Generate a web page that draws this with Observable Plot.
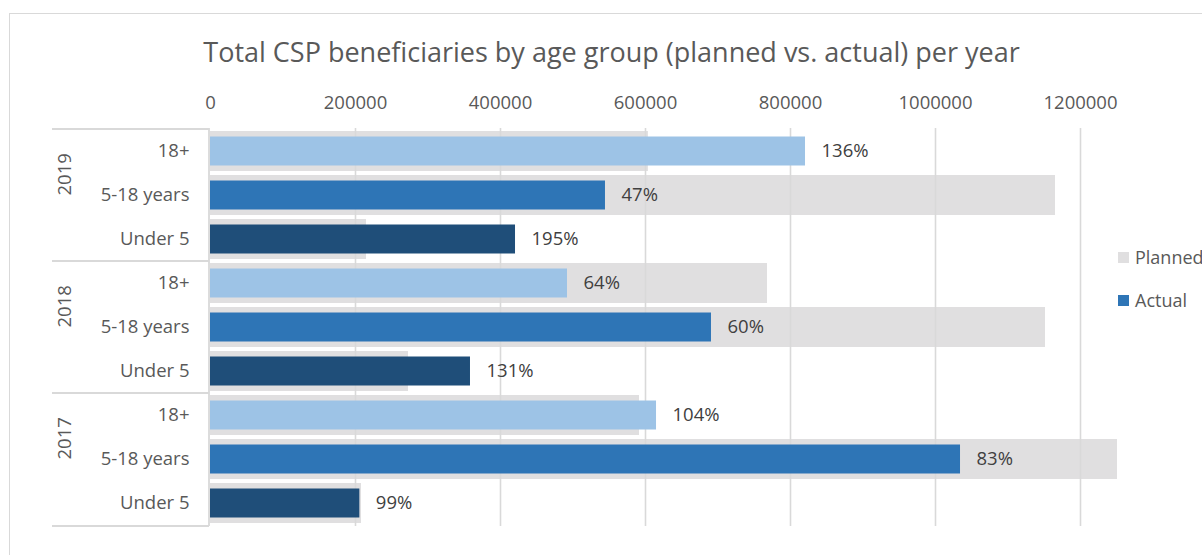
<!DOCTYPE html>
<html>
<head>
<meta charset="utf-8">
<script src="https://cdn.jsdelivr.net/npm/d3@7"></script>
<script src="https://cdn.jsdelivr.net/npm/@observablehq/plot@0.6"></script>
<style>
  html, body { margin: 0; padding: 0; background: #fff; overflow: hidden; }
  #wrap { position: relative; width: 1202px; height: 555px; overflow: hidden; font-family: "Open Sans", sans-serif; }
  #border { position: absolute; left: 9px; top: 13px; width: 1400px; height: 800px; border: 1.5px solid #d9d9d9; box-sizing: border-box; }
  #title { position: absolute; left: 0; top: 38px; width: 1223px; text-align: center; font-size: 27px; line-height: 1; color: #595959; white-space: nowrap; }
  #chart { position: absolute; left: 0; top: 0; }
  #legend { position: absolute; left: 1118px; top: 245px; font-size: 18px; color: #595959; white-space: nowrap; }
  .li { display: flex; align-items: center; height: 24px; margin-bottom: 19px; }
  .sw { width: 11px; height: 11px; margin-right: 6px; }
</style>
</head>
<body>
<div id="wrap">
  <div id="border"></div>
  <div id="title">Total CSP beneficiaries by age group (planned vs. actual) per year</div>
  <div id="chart"></div>
  <div id="legend">
    <div class="li"><div class="sw" style="background:#e0dfe0"></div>Planned</div>
    <div class="li"><div class="sw" style="background:#2e75b6"></div>Actual</div>
  </div>
</div>
<script>
const years = ["2019", "2018", "2017"];
const ageGroups = ["18+", "5-18 years", "Under 5"];
const planned2019 = [604000, 1165500, 215200];
const planned2018 = [768300, 1151700, 273100];
const planned2017 = [591700, 1251000, 208300];
const actual2019 = [820700, 544800, 420700];
const actual2018 = [492400, 691000, 358600];
const actual2017 = [615200, 1034500, 206000];
const labels2019 = ["136%", "47%", "195%"];
const labels2018 = ["64%", "60%", "131%"];
const labels2017 = ["104%", "83%", "99%"];
const xTicks = [0, 200000, 400000, 600000, 800000, 1000000, 1200000];
const ageColors = ["#9dc3e6", "#2e75b6", "#1f4e79"];

const plannedBy = {"2019": planned2019, "2018": planned2018, "2017": planned2017};
const actualBy = {"2019": actual2019, "2018": actual2018, "2017": actual2017};
const labelsBy = {"2019": labels2019, "2018": labels2018, "2017": labels2017};

const rows = [];
for (const yr of years) {
  ageGroups.forEach((ag, i) => {
    rows.push({year: yr, age: ag, key: yr + "|" + ag, planned: plannedBy[yr][i], actual: actualBy[yr][i], label: labelsBy[yr][i]});
  });
}
const keys = rows.map(d => d.key);

const separators = (index, scales, values, dimensions) => {
  const g = d3.create("svg:g");
  const y = scales.y;
  const x0 = dimensions.marginLeft - 158;
  const x1 = dimensions.marginLeft - 1;
  const ys = years.map(yr => y(yr + "|" + ageGroups[0]));
  ys.push(dimensions.height - dimensions.marginBottom);
  for (const yy of ys) {
    g.append("line").attr("x1", x0).attr("x2", x1).attr("y1", yy).attr("y2", yy)
      .attr("stroke", "#d9d9d9").attr("stroke-width", 1.8);
  }
  g.append("line").attr("x1", x1).attr("x2", x1)
    .attr("y1", dimensions.marginTop).attr("y2", dimensions.height - dimensions.marginBottom)
    .attr("stroke", "#d9d9d9").attr("stroke-width", 1.8);
  return g.node();
};

const chart = Plot.plot({
  width: 1202,
  height: 555,
  marginLeft: 210,
  marginRight: 122,
  marginTop: 128,
  marginBottom: 29,
  style: {fontFamily: "'Open Sans', sans-serif", fontSize: "18.5px", color: "#595959", background: "transparent", overflow: "visible"},
  x: {domain: [0, 1200000], ticks: xTicks, axis: "top", tickSize: 0, tickPadding: 20, tickFormat: d => String(d), label: null},
  y: {domain: keys, padding: 0, axis: null},
  color: {domain: ageGroups, range: ageColors},
  marks: [
    Plot.barX(rows, {y: "key", x: "planned", fill: "#e0dfe0", insetTop: 2, insetBottom: 2}),
    Plot.gridX(xTicks.slice(1), {stroke: "#d9d9d9", strokeOpacity: 1, strokeWidth: 1.6}),
    Plot.barX(rows, {y: "key", x: "actual", fill: "age", insetTop: 7.5, insetBottom: 7.5}),
    Plot.text(rows, {y: "key", x: "actual", text: "label", textAnchor: "start", dx: 16, fill: "#404040", fontSize: 18.5}),
    Plot.text(rows, {y: "key", text: "age", frameAnchor: "left", textAnchor: "end", dx: -21, fill: "#595959", fontSize: 18.5}),
    Plot.text(rows.filter(d => d.age === ageGroups[1]), {y: "key", text: "year", frameAnchor: "left", dx: -145, rotate: -90, fill: "#595959", fontSize: 18.5}),
    separators
  ]
});
document.getElementById("chart").appendChild(chart);
</script>
</body>
</html>
